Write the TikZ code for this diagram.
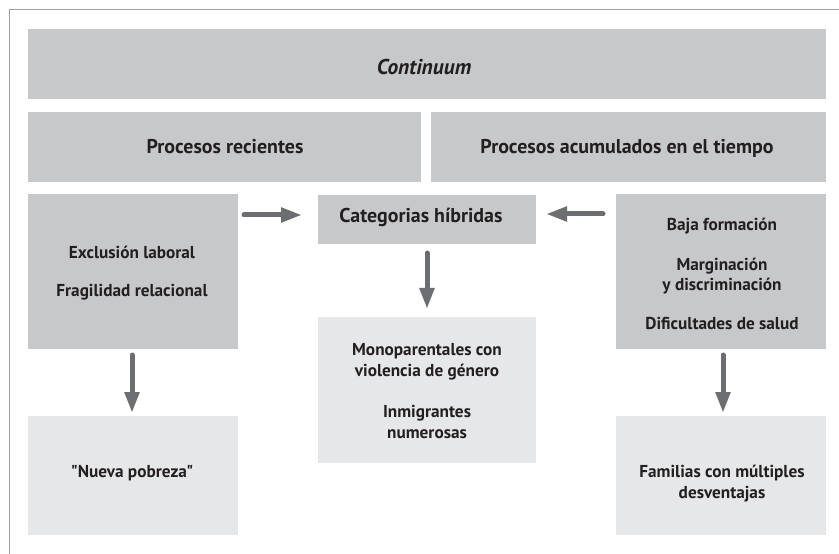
\documentclass[tikz,border=0pt]{standalone}
\usepackage{fontspec}
\setmainfont{PT Sans}[Ligatures=TeXOff]
\usetikzlibrary{arrows.meta}
\definecolor{darkbox}{HTML}{C7C8CA}
\definecolor{lightbox}{HTML}{E6E7E8}
\definecolor{arrowgray}{HTML}{6D6E71}
\definecolor{framegray}{HTML}{A0A0A0}
\definecolor{txt}{HTML}{231F20}
\tikzset{
  boxd/.style={fill=darkbox, draw=none, inner sep=0pt, anchor=north west},
  boxl/.style={fill=lightbox, draw=none, inner sep=0pt, anchor=north west},
  lbl/.style={anchor=base, inner sep=0pt, text=txt, font=\fontsize{17.3}{20}\selectfont\bfseries},
  hdr/.style={anchor=base, inner sep=0pt, text=txt, font=\fontsize{20}{24}\selectfont\bfseries},
  flow/.style={draw=arrowgray, line width=5bp, line cap=round, -{Triangle[length=21bp, width=14bp]}},
}
\begin{document}
\begin{tikzpicture}[x=1bp, y=-1bp]
\useasboundingbox (0,0) rectangle (839,554);
\fill[white] (0,0) rectangle (839,554);
% frame
\draw[framegray, line width=1.2bp] (9.5,554) -- (9.5,9.5) -- (839,9.5);
% boxes
\node[boxd, minimum width=798bp, minimum height=70bp] (cont) at (28,29) {};
\node[boxd, minimum width=393bp, minimum height=70bp] (prec) at (28,112) {};
\node[boxd, minimum width=395bp, minimum height=70bp] (pacu) at (431,112) {};
\node[boxd, minimum width=210bp, minimum height=155bp] (excl) at (28,194) {};
\node[boxd, minimum width=218bp, minimum height=49bp] (cat) at (318,195) {};
\node[boxd, minimum width=210bp, minimum height=155bp] (baja) at (616,194) {};
\node[boxl, minimum width=218bp, minimum height=146bp] (mono) at (318,317) {};
\node[boxl, minimum width=210bp, minimum height=119bp] (nueva) at (28,416) {};
\node[boxl, minimum width=210bp, minimum height=119bp] (fam) at (616,416) {};
% texts
\node[hdr, font=\fontsize{21.5}{24}\selectfont\bfseries\itshape] (tcont) at (424,75) {Continuum};
\node[hdr] (tprec) at (225,154) {Procesos recientes};
\node[hdr] (tpacu) at (627,154) {Procesos acumulados en el tiempo};
\node[lbl, font=\fontsize{20}{24}\selectfont\bfseries] (tcat) at (421,223) {Categorias híbridas};
\node[lbl] (texc1) at (132,259) {Exclusión laboral};
\node[lbl] (texc2) at (132,297) {Fragilidad relacional};
\node[lbl] (tbaja1) at (722,231) {Baja formación};
\node[lbl] (tbaja2) at (722,271) {Marginación};
\node[lbl] (tbaja3) at (722,291) {y discriminación};
\node[lbl] (tbaja4) at (722,330) {Dificultades de salud};
\node[lbl] (tmono1) at (427,355) {Monoparentales con};
\node[lbl] (tmono2) at (427,376) {violencia de género};
\node[lbl] (tmono3) at (427,417) {Inmigrantes};
\node[lbl] (tmono4) at (427,438) {numerosas};
\node[lbl] (tnueva) at (132,477) {"Nueva pobreza"};
\node[lbl] (tfam1) at (722,477) {Familias con múltiples};
\node[lbl] (tfam2) at (722,498) {desventajas};
% arrow end points
\coordinate (a1s) at (244,215);
\coordinate (a1e) at (302,215);
\coordinate (a2s) at (603,214);
\coordinate (a2e) at (546,214);
\coordinate (a3s) at (427,253);
\coordinate (a3e) at (427,309);
\coordinate (a4s) at (132,355);
\coordinate (a4e) at (132,413);
\coordinate (a5s) at (723,355);
\coordinate (a5e) at (723,413);
% arrows
\draw[flow] (a1s) -- (a1e);
\draw[flow] (a2s) -- (a2e);
\draw[flow] (a3s) -- (a3e);
\draw[flow] (a4s) -- (a4e);
\draw[flow] (a5s) -- (a5e);
\end{tikzpicture}
\end{document}
